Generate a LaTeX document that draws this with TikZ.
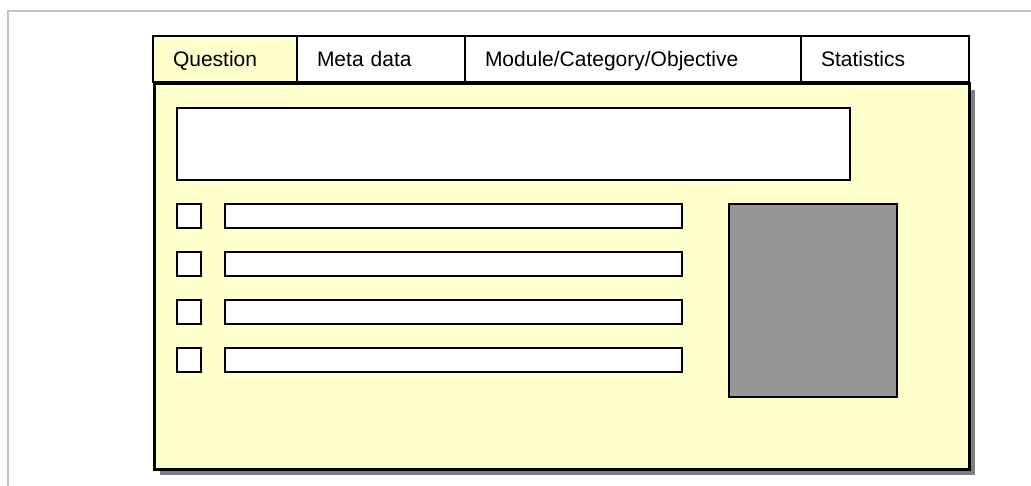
\documentclass[tikz,border=0pt]{standalone}
\usepackage{fontspec}
\setmainfont{Liberation Sans}
\usetikzlibrary{shadows}
\definecolor{paper}{HTML}{FFFFCC}
\definecolor{framegray}{HTML}{C4C4C4}
\definecolor{shade}{HTML}{808080}
\definecolor{slate}{HTML}{969696}

\begin{document}
\begin{tikzpicture}[x=1pt,y=-1pt,
  tab/.style={draw=black, line width=1.8pt, anchor=north west, outer sep=0pt,
    minimum height=46pt, inner xsep=20pt, inner ysep=0pt,
    text height=15pt, text depth=0pt, align=left,
    font=\fontsize{21}{25}\selectfont},
  panel/.style={draw=black, line width=3pt, fill=paper, anchor=north west,
    inner sep=0pt, outer sep=0pt,
    drop shadow={shadow xshift=6pt, shadow yshift=-6pt, fill=shade, opacity=1}},
  field/.style={draw=black, line width=1.8pt, fill=white, anchor=north west,
    inner sep=0pt, outer sep=0pt,
    drop shadow={shadow xshift=1pt, shadow yshift=-1pt, fill=shade, opacity=0.6}},
  check/.style={field, minimum width=24pt, minimum height=24pt},
  answer/.style={field, minimum width=457pt, minimum height=24pt},
]
\useasboundingbox (0,0) rectangle (1031,486);

% outer frame (top and left edges only)
\draw[framegray, line width=1.5pt] (8,486) -- (8,11) -- (1031,11);

% main card
\node[panel, minimum width=815pt, minimum height=385pt] (card) at (154,84) {};

% tab strip
\node[tab, fill=paper, minimum width=144pt, text width=104pt] (tq) at (153,36) {Question};
\node[tab, fill=white, minimum width=168pt, text width=128pt] (tm) at (tq.north east) {Meta data};
\node[tab, fill=white, minimum width=336pt, text width=296pt] (tc) at (tm.north east) {Module/Category/Objective};
\node[tab, fill=white, minimum width=168pt, text width=128pt] (ts) at (tc.north east) {Statistics};

% question text area
\node[field, minimum width=673pt, minimum height=72pt] (qtext) at (177,108) {};

% answer rows
\foreach \i in {1,...,4}{
  \node[check] (c\i) at (177,{204+48*(\i-1)}) {};
  \node[answer] (a\i) at (225,{204+48*(\i-1)}) {};
}

% picture area
\node[field, fill=slate, minimum width=168pt, minimum height=193pt] (pic) at (729,204) {};
\end{tikzpicture}
\end{document}
